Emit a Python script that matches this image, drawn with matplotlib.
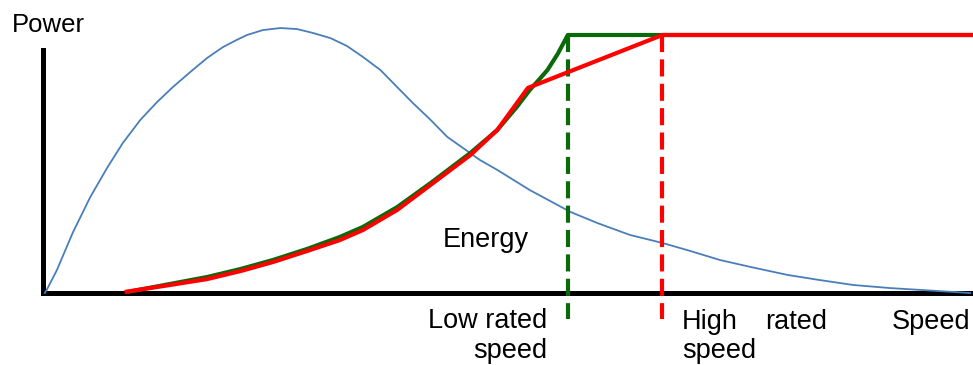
import matplotlib.pyplot as plt

plt.rcParams['font.family'] = ['Liberation Sans', 'DejaVu Sans']

# speed in % of max speed, power in % of rated power
energy_speed = [0.2, 0.4, 1.5, 3.2, 5.1, 6.9, 8.6, 10.5, 12.3, 14.0, 15.9, 17.7, 19.4,
                20.9, 22.0, 23.7, 25.6, 27.4, 29.1, 31.0, 32.8, 34.5, 36.4, 38.2,
                39.9, 41.8, 43.6, 45.3, 47.1, 49.0, 52.5, 56.9, 59.8, 63.3, 66.8,
                69.8, 73.0, 76.3, 80.3, 83.8, 87.4, 91.4, 94.6, 100.0]
energy_power = [0, 1.2, 8.9, 23.3, 37.2, 48.4, 58.1, 67.1, 74.0, 79.8, 85.7, 91.1, 95.3,
                98.1, 100.0, 101.9, 102.7, 102.3, 100.8, 98.8, 95.7, 91.5, 86.4, 79.8,
                73.6, 67.1, 60.5, 56.2, 51.6, 47.7, 39.9, 31.4, 27.1, 22.5, 19.4,
                16.3, 12.8, 10.1, 7.0, 5.0, 3.1, 1.9, 1.2, 0]

low_speed = [9.1, 13.7, 17.7, 21.3, 24.8, 28.5, 32.0, 34.5, 38.2, 41.8, 46.1, 49.0,
             51.1, 52.5, 53.5, 54.4, 55.5, 56.6, 100.3]
low_power = [0.4, 3.5, 6.2, 9.3, 12.8, 17.1, 21.7, 25.6, 33.3, 42.6, 54.3, 63.2,
             72.1, 78.7, 82.7, 86.4, 92.6, 100, 100]

high_speed = [8.8, 13.7, 17.7, 21.3, 24.8, 28.5, 32.0, 34.5, 38.2, 41.8, 46.1, 49.0,
              52.3, 66.8, 100.3]
high_power = [0.4, 3.1, 5.4, 8.5, 12.0, 16.3, 20.5, 24.4, 32.2, 41.9, 53.5, 63.2,
              79.5, 100, 100]

low_rated = 56.6
high_rated = 66.8

W, H = 973, 365
fig = plt.figure(figsize=(W / 100, H / 100), dpi=100)
ax = fig.add_axes([43 / W, 72 / H, 930 / W, 258 / H])
ax.set_xlim(0, 100.3)
ax.set_ylim(0, 100)

ax.plot(energy_speed, energy_power, color='#4a7ebb', lw=1.3, clip_on=False, zorder=2)
ax.plot(low_speed, low_power, color='#0a6a0a', lw=3.0, clip_on=False,
        solid_capstyle='butt', zorder=3)
ax.plot(high_speed, high_power, color='#ff0000', lw=3.0, clip_on=False,
        solid_capstyle='butt', zorder=4)

ax.plot([low_rated, low_rated], [100, -10.1], color='#0a6a0a', lw=3.0,
        dashes=(4.1, 1.75), clip_on=False, zorder=3)
ax.plot([high_rated, high_rated], [100, -10.1], color='#ff0000', lw=3.0,
        dashes=(4.1, 1.75), clip_on=False, zorder=4)

for s in ['top', 'right']:
    ax.spines[s].set_visible(False)
ax.spines['left'].set_linewidth(3.6)
ax.spines['bottom'].set_linewidth(3.6)
ax.spines['left'].set_bounds(0, 94.2)
ax.spines['left'].set_zorder(1)
ax.spines['bottom'].set_zorder(1)
ax.set_xticks([])
ax.set_yticks([])
ax.patch.set_visible(False)

fs = 19.5
fig.text(12 / W, 1 - 32 / H, 'Power', fontsize=18.5, va='baseline', ha='left')
fig.text(443 / W, 1 - 247 / H, 'Energy', fontsize=fs, va='baseline', ha='left')
fig.text(547 / W, 1 - 328 / H, 'Low rated', fontsize=fs, va='baseline', ha='right')
fig.text(547 / W, 1 - 358 / H, 'speed', fontsize=fs, va='baseline', ha='right')
fig.text(682 / W, 1 - 329 / H, 'High', fontsize=fs, va='baseline', ha='left')
fig.text(827 / W, 1 - 329 / H, 'rated', fontsize=fs, va='baseline', ha='right')
fig.text(682 / W, 1 - 358 / H, 'speed', fontsize=fs, va='baseline', ha='left')
fig.text(970 / W, 1 - 329 / H, 'Speed', fontsize=fs, va='baseline', ha='right')

fig.savefig('out.png', dpi=100)
